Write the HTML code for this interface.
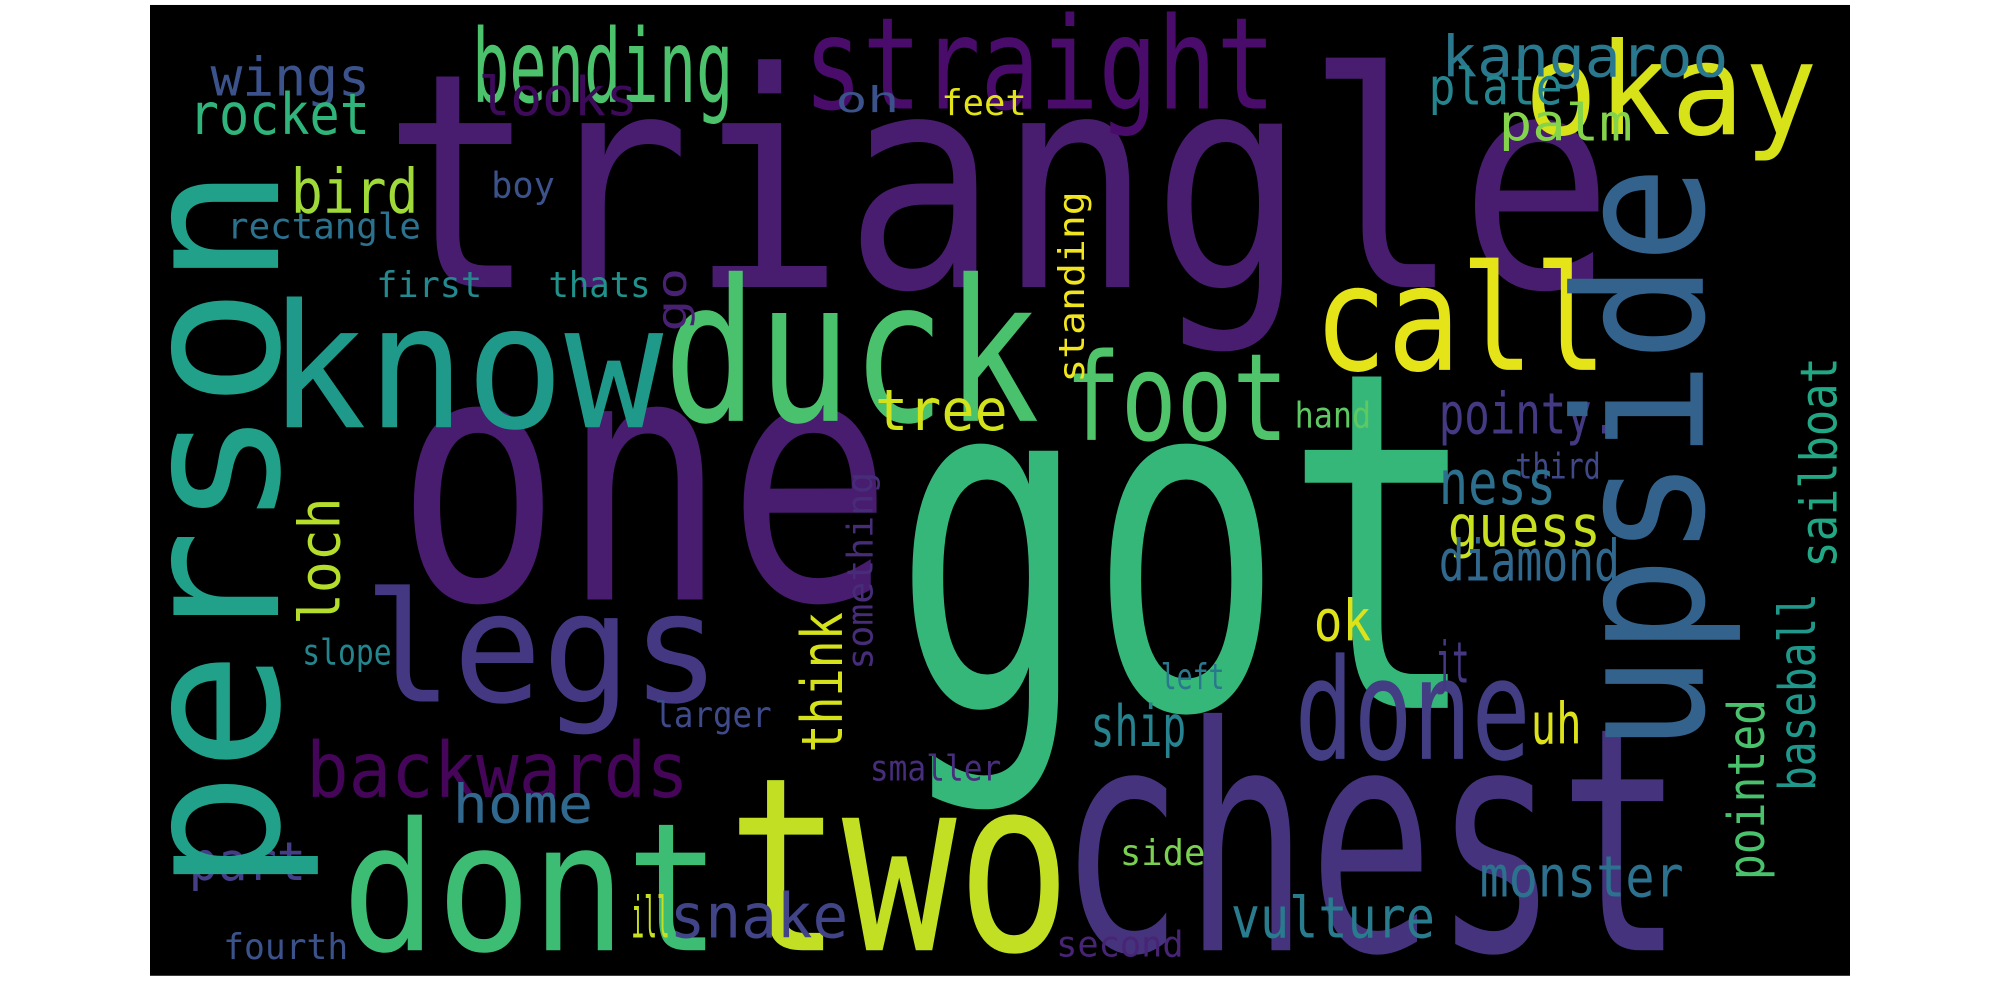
<!DOCTYPE html>
<html><head><meta charset="utf-8"><style>
html,body{margin:0;padding:0;background:#fff;width:2000px;height:1000px;overflow:hidden}
svg text{font-family:"DejaVu Sans Mono","Liberation Mono",monospace}
</style></head><body>
<svg width="2000" height="1000" viewBox="0 0 1568 784" preserveAspectRatio="none" xmlns="http://www.w3.org/2000/svg">
<rect x="117.6" y="3.9" width="1332.8" height="761.1" fill="#000"/>
<g>
<text x="300" y="225" font-size="235" fill="#481d6f" textLength="965" lengthAdjust="spacingAndGlyphs">triangle</text>
<text x="700" y="555" font-size="370" fill="#35b779" textLength="460" lengthAdjust="spacingAndGlyphs">got</text>
<text x="310" y="470" font-size="270" fill="#481c6e" textLength="390" lengthAdjust="spacingAndGlyphs">one</text>
<text x="570" y="745" font-size="190" fill="#c2df23" textLength="270" lengthAdjust="spacingAndGlyphs">two</text>
<text x="830" y="745" font-size="245" fill="#46337e" textLength="490" lengthAdjust="spacingAndGlyphs">chest</text>
<text x="268" y="745" font-size="140" fill="#3dbc74" textLength="297" lengthAdjust="spacingAndGlyphs">dont</text>
<text x="210" y="335" font-size="135" fill="#1f9a8a" textLength="310" lengthAdjust="spacingAndGlyphs">know</text>
<text x="520" y="330" font-size="155" fill="#4ac16d" textLength="295" lengthAdjust="spacingAndGlyphs">duck</text>
<text x="1030" y="290" font-size="115" fill="#e5e419" textLength="230" lengthAdjust="spacingAndGlyphs">call</text>
<text x="285" y="550" font-size="120" fill="#453882" textLength="280" lengthAdjust="spacingAndGlyphs">legs</text>
<text x="835" y="345" font-size="95" fill="#50c46a" textLength="175" lengthAdjust="spacingAndGlyphs">foot</text>
<text x="1015" y="595" font-size="110" fill="#433d84" textLength="185" lengthAdjust="spacingAndGlyphs">done</text>
<text x="1195" y="105" font-size="100" fill="#d8e219" textLength="230" lengthAdjust="spacingAndGlyphs">okay</text>
<text x="630" y="85" font-size="100" fill="#4a0c6b" textLength="370" lengthAdjust="spacingAndGlyphs">straight</text>
<text x="370" y="80" font-size="80" fill="#4cc26c" textLength="205" lengthAdjust="spacingAndGlyphs">bending</text>
<text x="240" y="625" font-size="60" fill="#450559" textLength="300" lengthAdjust="spacingAndGlyphs">backwards</text>
<text x="1130" y="60" font-size="45" fill="#2a788e" textLength="225" lengthAdjust="spacingAndGlyphs">kangaroo</text>
<text x="165" y="75" font-size="42" fill="#3b528b" textLength="125" lengthAdjust="spacingAndGlyphs">wings</text>
<text x="148" y="105" font-size="45" fill="#2fb47c" textLength="142" lengthAdjust="spacingAndGlyphs">rocket</text>
<text x="375" y="90" font-size="42" fill="#3e0a5a" textLength="125" lengthAdjust="spacingAndGlyphs">looks</text>
<text x="1120" y="82" font-size="40" fill="#25858e" textLength="105" lengthAdjust="spacingAndGlyphs">plate</text>
<text x="1175" y="110" font-size="40" fill="#84d44b" textLength="105" lengthAdjust="spacingAndGlyphs">palm</text>
<text x="655" y="88" font-size="28" fill="#3b528b" textLength="50" lengthAdjust="spacingAndGlyphs">oh</text>
<text x="738" y="90" font-size="28" fill="#e2e418" textLength="67" lengthAdjust="spacingAndGlyphs">feet</text>
<text x="228" y="167" font-size="48" fill="#a0da39" textLength="100" lengthAdjust="spacingAndGlyphs">bird</text>
<text x="385" y="155" font-size="28" fill="#3b528b" textLength="50" lengthAdjust="spacingAndGlyphs">boy</text>
<text x="178" y="187" font-size="28" fill="#2c728e" textLength="152" lengthAdjust="spacingAndGlyphs">rectangle</text>
<text x="295" y="233" font-size="28" fill="#23898e" textLength="83" lengthAdjust="spacingAndGlyphs">first</text>
<text x="430" y="233" font-size="28" fill="#20928c" textLength="80" lengthAdjust="spacingAndGlyphs">thats</text>
<text x="686" y="337" font-size="45" fill="#d2e21b" textLength="104" lengthAdjust="spacingAndGlyphs">tree</text>
<text x="1128" y="340" font-size="45" fill="#443a83" textLength="140" lengthAdjust="spacingAndGlyphs">pointy.</text>
<text x="1015" y="335" font-size="28" fill="#5ec962" textLength="60" lengthAdjust="spacingAndGlyphs">hand</text>
<text x="1188" y="375" font-size="28" fill="#3f4889" textLength="67" lengthAdjust="spacingAndGlyphs">third</text>
<text x="1128" y="395" font-size="48" fill="#2d708e" textLength="92" lengthAdjust="spacingAndGlyphs">ness</text>
<text x="1135" y="428" font-size="45" fill="#c8e020" textLength="120" lengthAdjust="spacingAndGlyphs">guess</text>
<text x="1128" y="455" font-size="45" fill="#31688e" textLength="142" lengthAdjust="spacingAndGlyphs">diamond</text>
<text x="1030" y="502" font-size="45" fill="#dde318" textLength="45" lengthAdjust="spacingAndGlyphs">ok</text>
<text x="1125" y="535" font-size="45" fill="#453781" textLength="27" lengthAdjust="spacingAndGlyphs">jt</text>
<text x="1200" y="583" font-size="45" fill="#dde318" textLength="40" lengthAdjust="spacingAndGlyphs">uh</text>
<text x="855" y="585" font-size="45" fill="#26828e" textLength="75" lengthAdjust="spacingAndGlyphs">ship</text>
<text x="355" y="645" font-size="42" fill="#31688e" textLength="110" lengthAdjust="spacingAndGlyphs">home</text>
<text x="148" y="690" font-size="42" fill="#433e85" textLength="92" lengthAdjust="spacingAndGlyphs">part</text>
<text x="495" y="735" font-size="45" fill="#c8e020" textLength="30" lengthAdjust="spacingAndGlyphs">ill</text>
<text x="525" y="735" font-size="48" fill="#414487" textLength="140" lengthAdjust="spacingAndGlyphs">snake</text>
<text x="965" y="735" font-size="45" fill="#287c8e" textLength="160" lengthAdjust="spacingAndGlyphs">vulture</text>
<text x="1160" y="703" font-size="45" fill="#2c728e" textLength="160" lengthAdjust="spacingAndGlyphs">monster</text>
<text x="513" y="570" font-size="28" fill="#3e4a89" textLength="92" lengthAdjust="spacingAndGlyphs">larger</text>
<text x="910" y="540" font-size="28" fill="#2a788e" textLength="50" lengthAdjust="spacingAndGlyphs">left</text>
<text x="237" y="521" font-size="28" fill="#25858e" textLength="70" lengthAdjust="spacingAndGlyphs">slope</text>
<text x="682" y="612" font-size="28" fill="#472d7b" textLength="103" lengthAdjust="spacingAndGlyphs">smaller</text>
<text x="878" y="678" font-size="28" fill="#7ad151" textLength="67" lengthAdjust="spacingAndGlyphs">side</text>
<text x="175" y="752" font-size="28" fill="#3b528b" textLength="98" lengthAdjust="spacingAndGlyphs">fourth</text>
<text x="828" y="750" font-size="28" fill="#482475" textLength="100" lengthAdjust="spacingAndGlyphs">second</text>
<text transform="translate(218,700) rotate(-90)" font-size="150" fill="#21a08a" textLength="570" lengthAdjust="spacingAndGlyphs">person</text>
<text transform="translate(1335,590) rotate(-90)" font-size="140" fill="#33638d" textLength="460" lengthAdjust="spacingAndGlyphs">upside</text>
<text transform="translate(266,490) rotate(-90)" font-size="45" fill="#b5de2b" textLength="100" lengthAdjust="spacingAndGlyphs">loch</text>
<text transform="translate(538,260) rotate(-90)" font-size="32" fill="#482173" textLength="50" lengthAdjust="spacingAndGlyphs">go</text>
<text transform="translate(660,590) rotate(-90)" font-size="45" fill="#d5e21a" textLength="110" lengthAdjust="spacingAndGlyphs">think</text>
<text transform="translate(684,525) rotate(-90)" font-size="28" fill="#472c7a" textLength="155" lengthAdjust="spacingAndGlyphs">something</text>
<text transform="translate(850,300) rotate(-90)" font-size="28" fill="#f1e51d" textLength="150" lengthAdjust="spacingAndGlyphs">standing</text>
<text transform="translate(1440,445) rotate(-90)" font-size="40" fill="#22a785" textLength="165" lengthAdjust="spacingAndGlyphs">sailboat</text>
<text transform="translate(1423,620) rotate(-90)" font-size="40" fill="#1f988b" textLength="155" lengthAdjust="spacingAndGlyphs">baseball</text>
<text transform="translate(1383,690) rotate(-90)" font-size="40" fill="#4ac16d" textLength="142" lengthAdjust="spacingAndGlyphs">pointed</text>
</g>
</svg>
</body></html>
